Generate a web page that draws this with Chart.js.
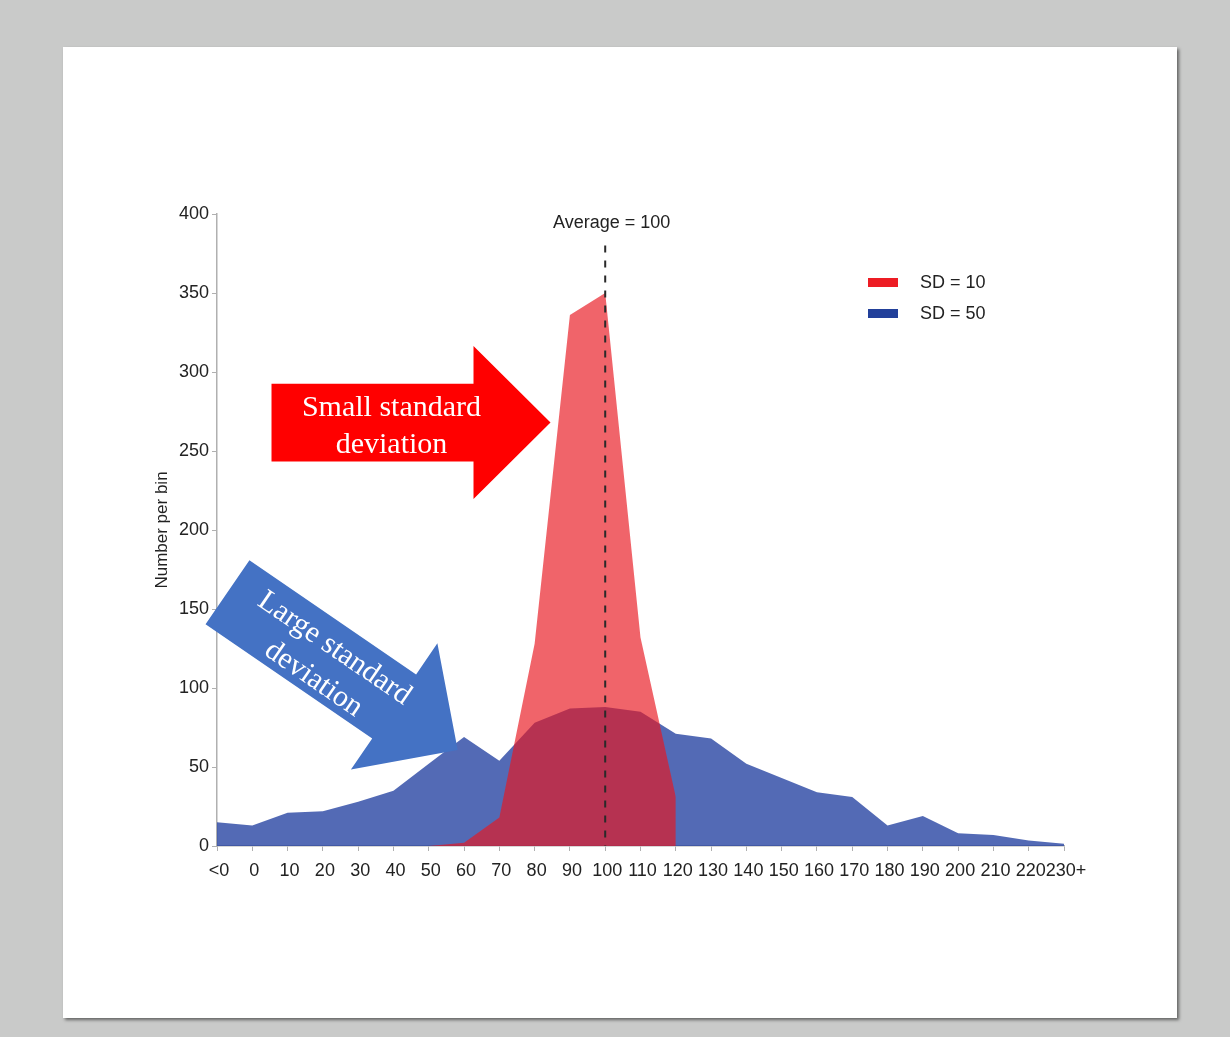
<!DOCTYPE html>
<html><head><meta charset="utf-8">
<script src="https://cdn.jsdelivr.net/npm/chart.js@4.4.1/dist/chart.umd.min.js"></script>
<style>
html,body{margin:0;padding:0;background:#c9cac9;width:1230px;height:1037px;overflow:hidden;}
#card{position:absolute;left:63px;top:47px;width:1114px;height:971px;background:#fff;box-shadow:2px 2px 3px rgba(0,0,0,0.5);}
canvas{display:block}
</style></head><body>
<div id="card"><canvas id="c" width="1114" height="971"></canvas></div>
<script>
// ---- data ----
const categories = ['<0','0','10','20','30','40','50','60','70','80','90','100','110','120','130','140','150','160','170','180','190','200','210','220','230+'];
const sd10Values = [null,null,null,null,null,null,0,2,18,128,336,350,132,31,null,null,null,null,null,null,null,null,null,null,null];
const sd50Values = [15,13,21,22,28,35,52,69,54,78,87,88,85,71,68,52,43,34,31,13,19,8,7,3.5,1.5];
const seriesLabels = ['SD = 10','SD = 50'];
const yMin = 0, yMax = 400, yStep = 50;
const yTitle = 'Number per bin';
const averageLabel = '100';
const averageText = 'Average = 100';
const redArrowText = ['Small standard','deviation'];
const blueArrowText = ['Large standard','deviation'];

// ---- styles ----
const SANS = '"Liberation Sans", Arial, Helvetica, sans-serif';
const SERIF = '"Liberation Serif", "Times New Roman", serif';
const fillColors = ['rgba(233,24,33,0.67)','rgba(35,64,160,0.78)'];
const legendColors = ['#ed1c24','#22409a'];
const axisColor = '#b0b0b0';
const textColor = '#222222';

Chart.defaults.font.family = SANS;

function drawArrow(ctx, tipX, tipY, angle, color, lines){
  const L = 279, s = 77.7, h = 153, hl = 77;
  ctx.save();
  ctx.translate(tipX, tipY);
  ctx.rotate(angle);
  ctx.fillStyle = color;
  ctx.beginPath();
  ctx.moveTo(-L, -s/2);
  ctx.lineTo(-hl, -s/2);
  ctx.lineTo(-hl, -h/2);
  ctx.lineTo(0, 0);
  ctx.lineTo(-hl, h/2);
  ctx.lineTo(-hl, s/2);
  ctx.lineTo(-L, s/2);
  ctx.closePath();
  ctx.fill();
  ctx.fillStyle = '#ffffff';
  ctx.font = '30px ' + SERIF;
  ctx.textAlign = 'center';
  ctx.textBaseline = 'middle';
  const cx = -159;
  ctx.fillText(lines[0], cx, -14);
  ctx.fillText(lines[1], cx, 23);
  ctx.restore();
}

const annot = {
  id: 'annot',
  afterDatasetsDraw(chart){
    const {ctx, chartArea, scales:{x, y}} = chart;
    ctx.save();
    // average dashed line
    const ax = x.getPixelForValue(categories.indexOf(averageLabel));
    ctx.strokeStyle = '#2a2a2a';
    ctx.lineWidth = 2;
    ctx.setLineDash([7,8]);
    ctx.beginPath();
    ctx.moveTo(ax, y.getPixelForValue(380));
    ctx.lineTo(ax, y.getPixelForValue(0));
    ctx.stroke();
    ctx.setLineDash([]);
    ctx.font = '18px ' + SANS;
    ctx.fillStyle = textColor;
    ctx.textAlign = 'center';
    ctx.textBaseline = 'middle';
    ctx.fillText(averageText, ax + 6.5, chartArea.top + 9);
    // arrows
    drawArrow(ctx, x.getPixelForValue(9.45), y.getPixelForValue(268), 0, '#ff0000', redArrowText);
    drawArrow(ctx, x.getPixelForValue(6.82), y.getPixelForValue(60.8), 34.4*Math.PI/180, '#4472c4', blueArrowText);
    // legend
    chart.data.datasets.forEach((ds, i) => {
      const bx = chartArea.right - 196, by = chartArea.top + 64 + i*31;
      ctx.fillStyle = legendColors[i];
      ctx.fillRect(bx, by, 30, 9);
      ctx.fillStyle = textColor;
      ctx.textAlign = 'left';
      ctx.textBaseline = 'middle';
      ctx.font = '18px ' + SANS;
      ctx.fillText(ds.label, bx + 52, by + 5);
    });
    ctx.restore();
  }
};

new Chart(document.getElementById('c'), {
  type: 'line',
  data: {
    labels: categories,
    datasets: [
      {label: seriesLabels[0], data: sd10Values, fill: 'origin', backgroundColor: fillColors[0], borderWidth: 0, pointRadius: 0, tension: 0, spanGaps: false},
      {label: seriesLabels[1], data: sd50Values, fill: 'origin', backgroundColor: fillColors[1], borderWidth: 0, pointRadius: 0, tension: 0, spanGaps: false}
    ]
  },
  options: {
    responsive: false,
    animation: false,
    devicePixelRatio: 1,
    layout: {padding: {left: 60, right: 113, top: 167, bottom: 132}},
    plugins: {legend: {display: false}, tooltip: {enabled: false}},
    scales: {
      x: {
        type: 'category',
        offset: false,
        grid: {display: true, drawOnChartArea: false, drawTicks: true, tickLength: 5, color: axisColor},
        border: {display: true, color: axisColor, width: 1.5},
        ticks: {autoSkip: false, maxRotation: 0, minRotation: 0, padding: 9, labelOffset: 2, color: textColor, font: {size: 18}},
        afterFit(s){ s.height = 40; s.paddingLeft = 0; s.paddingRight = 0; }
      },
      y: {
        min: yMin, max: yMax,
        grid: {display: true, drawOnChartArea: false, drawTicks: true, tickLength: 5, color: axisColor},
        border: {display: true, color: axisColor, width: 1.5},
        ticks: {stepSize: yStep, padding: 3, color: textColor, font: {size: 18}},
        title: {display: true, text: yTitle, color: textColor, font: {size: 17}, padding: {top: 29, bottom: 0}},
        afterFit(s){ s.width = 94; s.paddingTop = 0; s.paddingBottom = 0; }
      }
    }
  },
  plugins: [annot]
});
</script>
</body></html>
